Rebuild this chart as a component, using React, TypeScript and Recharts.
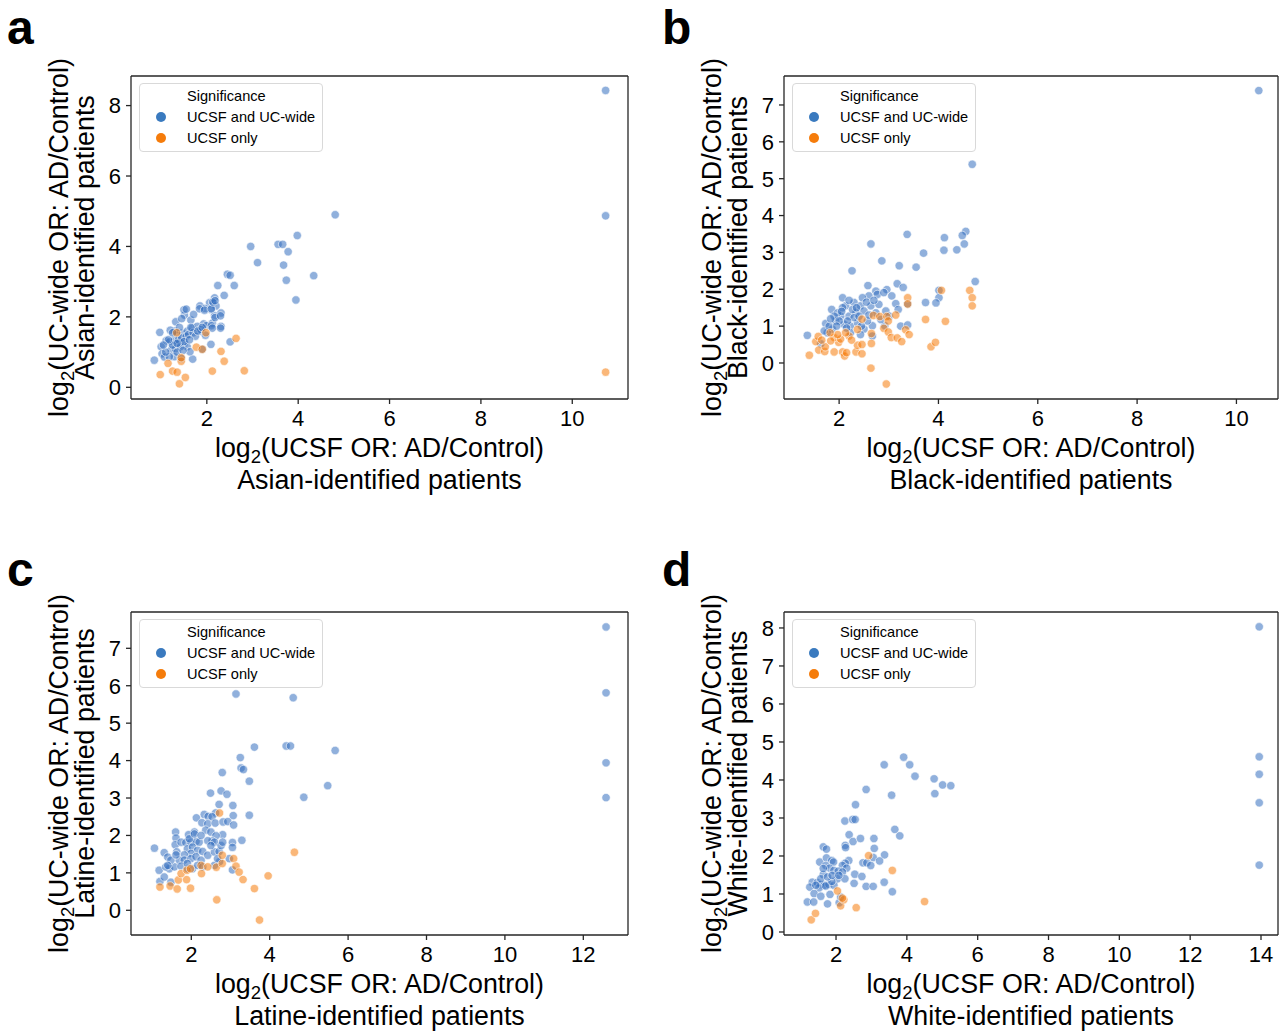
import React from 'react';
import { ScatterChart, Scatter, XAxis, YAxis, Legend, ReferenceLine } from 'recharts';

type Pt = { x: number; y: number };
const toPts = (arr: number[][]): Pt[] => arr.map(([x, y]) => ({ x, y }));

const seriesNames = ['UCSF and UC-wide', 'UCSF only'];
const legendTitle = 'Significance';
const groups = ['Asian', 'Black', 'Latine', 'White'];
const letters = ['a', 'b', 'c', 'd'];

const aXTicks = [2, 4, 6, 8, 10];
const aYTicks = [0, 2, 4, 6, 8];
const bXTicks = [2, 4, 6, 8, 10];
const bYTicks = [0, 1, 2, 3, 4, 5, 6, 7];
const cXTicks = [2, 4, 6, 8, 10, 12];
const cYTicks = [0, 1, 2, 3, 4, 5, 6, 7];
const dXTicks = [2, 4, 6, 8, 10, 12, 14];
const dYTicks = [0, 1, 2, 3, 4, 5, 6, 7, 8];

const aBlue = toPts([
  [10.73, 8.43], [10.73, 4.87], [4.81, 4.9], [3.98, 4.31], [3.56, 4.06], [3.66, 4.06], [3.78, 3.85], [2.96, 4.0],
  [3.11, 3.54], [3.68, 3.47], [3.74, 3.04], [4.34, 3.17], [3.95, 2.48], [2.45, 3.21], [2.51, 3.18], [2.24, 2.89],
  [2.6, 2.89], [2.38, 2.61], [2.17, 2.54], [2.06, 2.4], [2.14, 2.39], [2.2, 2.31], [1.85, 2.31], [1.96, 2.24],
  [2.09, 2.21], [2.31, 2.11], [2.17, 2.03], [2.12, 1.82], [1.93, 1.8], [2.31, 1.73], [1.99, 1.75], [2.1, 1.75],
  [1.85, 1.59], [1.97, 1.48], [2.51, 1.29], [2.09, 1.22], [0.85, 0.77], [0.97, 1.56], [1.69, 0.8], [1.11, 1.32],
  [1.0, 1.15], [1.02, 0.95], [1.07, 0.86], [1.18, 1.29], [1.29, 1.34], [1.22, 1.06], [1.31, 1.09], [1.4, 1.25],
  [1.51, 1.25], [1.35, 1.49], [1.46, 1.54], [1.57, 1.59], [1.68, 1.69], [1.79, 1.73], [1.87, 1.64], [1.32, 1.86],
  [1.51, 2.05], [1.5, 2.2], [1.55, 2.22], [1.65, 1.91], [1.71, 2.07], [1.84, 2.23], [1.95, 2.19], [2.1, 2.23],
  [2.13, 2.42], [2.18, 2.46], [2.18, 1.98], [2.3, 2.03], [2.3, 1.68], [2.12, 1.68], [1.57, 1.15], [1.63, 1.01],
  [1.29, 0.87], [1.18, 0.87], [1.44, 0.82], [1.25, 1.2], [1.38, 1.35], [1.45, 1.4], [1.55, 1.45], [1.6, 1.5],
  [1.7, 1.55], [1.75, 1.45], [1.8, 1.6], [1.42, 1.15], [1.5, 1.3], [1.62, 1.35], [1.3, 1.6], [1.2, 1.62],
  [1.1, 1.0], [1.35, 1.0], [1.48, 1.05], [1.9, 1.7], [1.65, 1.7], [1.4, 1.7], [1.45, 1.95], [1.35, 1.25],
  [1.9, 1.08], [1.16, 1.35], [1.05, 1.2], [1.25, 1.55],
]);
const aOrange = toPts([
  [10.73, 0.43], [2.64, 1.39], [2.31, 1.02], [2.38, 0.74], [2.12, 0.46], [2.82, 0.47], [0.98, 0.36], [1.15, 0.68],
  [1.25, 0.46], [1.35, 0.43], [1.4, 0.1], [1.53, 0.28], [1.44, 0.74], [1.44, 0.84], [1.77, 1.14], [1.9, 1.08],
  [1.34, 1.55], [1.98, 1.55],
]);

const bBlue = toPts([
  [10.45, 7.39], [4.68, 5.39], [3.37, 3.49], [2.64, 3.23], [4.55, 3.57], [4.48, 3.46], [4.12, 3.4], [4.52, 3.23],
  [4.11, 3.06], [4.37, 3.07], [3.7, 2.98], [2.86, 2.77], [3.21, 2.64], [3.55, 2.6], [2.26, 2.5], [4.74, 2.21],
  [2.58, 2.1], [3.17, 2.15], [3.29, 2.05], [2.96, 1.99], [2.74, 1.95], [4.01, 1.97], [4.01, 1.77], [3.95, 1.63],
  [3.74, 1.64], [3.38, 1.6], [2.07, 1.77], [3.06, 1.82], [3.14, 1.61], [3.19, 1.45], [2.94, 1.41], [3.24, 1.0],
  [3.38, 1.03], [2.92, 1.01], [1.85, 1.45], [1.73, 1.07], [1.36, 0.75], [1.63, 0.52], [2.13, 1.55], [2.3, 1.64],
  [2.43, 1.55], [2.6, 1.82], [2.77, 1.86], [2.9, 1.91], [2.47, 1.77], [2.34, 1.36], [2.5, 1.41], [2.64, 1.55],
  [2.8, 1.59], [2.2, 1.27], [2.03, 1.27], [1.97, 1.36], [1.93, 1.14], [2.1, 1.05], [2.23, 1.0], [2.37, 1.09],
  [2.5, 0.92], [2.67, 1.01], [2.67, 0.73], [1.86, 0.92], [1.76, 0.82], [1.7, 0.87], [2.23, 0.82], [2.43, 0.77],
  [2.3, 1.23], [2.4, 1.27], [2.57, 1.14], [2.07, 1.5], [2.27, 1.45], [1.9, 1.27], [2.0, 1.14], [2.17, 1.14],
  [2.74, 1.36], [2.84, 1.18], [3.01, 1.27], [1.8, 1.0], [1.95, 1.0], [2.15, 0.95], [2.05, 1.4], [2.2, 1.7],
  [2.35, 1.5], [2.55, 1.65], [2.7, 1.7], [1.83, 1.2], [2.6, 1.3], [2.45, 1.0],
]);
const bOrange = toPts([
  [2.95, -0.57], [2.64, -0.14], [1.4, 0.21], [1.59, 0.35], [1.53, 0.58], [1.58, 0.72], [1.71, 0.31], [1.72, 0.44],
  [1.9, 0.3], [2.07, 0.3], [2.11, 0.19], [2.15, 0.28], [2.34, 0.3], [2.46, 0.25], [2.37, 0.48], [2.46, 0.5],
  [2.65, 0.53], [1.99, 0.56], [1.9, 0.69], [1.83, 0.6], [2.03, 0.65], [2.2, 0.73], [2.13, 0.82], [1.97, 0.77],
  [1.82, 0.82], [2.37, 0.91], [2.65, 0.8], [2.46, 1.19], [2.69, 1.29], [2.82, 1.26], [2.96, 1.26], [2.99, 1.14],
  [3.14, 1.3], [2.9, 0.94], [2.99, 0.84], [3.05, 0.69], [3.17, 0.68], [3.26, 0.58], [3.34, 0.9], [3.41, 0.77],
  [3.38, 1.77], [3.38, 1.6], [3.74, 1.18], [3.85, 0.44], [3.94, 0.56], [4.14, 1.13], [4.06, 1.97], [4.63, 1.97],
  [4.68, 1.77], [4.68, 1.55], [1.65, 0.62], [2.25, 0.62],
]);

const cBlue = toPts([
  [12.58, 7.57], [12.58, 5.81], [12.58, 3.94], [12.58, 3.01], [3.14, 5.78], [4.6, 5.68], [4.42, 4.39], [4.53, 4.39],
  [3.61, 4.36], [5.67, 4.27], [3.25, 4.08], [3.27, 3.8], [3.33, 3.76], [2.79, 3.68], [3.48, 3.45], [5.48, 3.33],
  [4.87, 3.02], [2.49, 3.13], [2.76, 3.19], [2.91, 3.1], [2.71, 2.83], [3.06, 2.8], [3.07, 2.53], [3.48, 2.54],
  [2.62, 2.6], [2.33, 2.56], [2.13, 2.47], [2.43, 2.51], [2.53, 2.5], [2.27, 2.34], [2.42, 2.31], [2.61, 2.33],
  [2.81, 2.36], [2.93, 2.37], [3.08, 2.28], [2.8, 2.02], [2.37, 2.14], [2.5, 2.09], [2.63, 1.99], [2.53, 1.85],
  [2.08, 2.09], [1.93, 2.02], [1.6, 2.09], [1.61, 1.93], [1.59, 1.75], [1.06, 1.66], [1.31, 1.54], [1.4, 1.42],
  [1.63, 1.56], [1.18, 1.07], [1.2, 0.77], [1.31, 0.89], [1.44, 1.11], [1.35, 1.16], [3.05, 1.81], [3.05, 1.68],
  [3.29, 1.87], [2.97, 1.38], [3.05, 1.08], [2.72, 1.3], [2.59, 1.2], [1.48, 0.75], [1.74, 1.82], [1.86, 1.81],
  [1.99, 1.82], [2.12, 1.84], [2.2, 1.82], [1.9, 1.64], [2.03, 1.69], [2.16, 1.6], [2.29, 1.57], [1.99, 1.52],
  [1.82, 1.48], [1.69, 1.34], [1.82, 1.34], [1.99, 1.38], [2.12, 1.43], [2.25, 1.34], [2.42, 1.47], [2.59, 1.56],
  [2.71, 1.57], [1.57, 1.16], [1.74, 1.18], [1.9, 1.11], [2.03, 1.11], [2.16, 1.2], [2.29, 1.16], [1.9, 1.25],
  [1.95, 1.91], [2.08, 2.04], [2.25, 2.0], [2.42, 1.86], [2.59, 1.82], [2.76, 1.73], [2.8, 1.82], [2.5, 1.73],
  [1.48, 1.34], [1.61, 1.48], [1.4, 1.2], [2.67, 1.38],
]);
const cOrange = toPts([
  [3.74, -0.26], [2.65, 0.28], [1.2, 0.62], [1.46, 0.65], [1.64, 0.57], [1.98, 0.59], [1.67, 0.81], [1.88, 0.82],
  [1.74, 0.98], [1.89, 1.07], [1.98, 1.11], [2.26, 0.98], [2.25, 1.2], [2.42, 1.16], [2.64, 1.15], [2.79, 1.25],
  [2.79, 1.47], [3.08, 1.38], [3.14, 1.18], [3.22, 1.02], [3.32, 0.82], [3.61, 0.58], [3.96, 0.92], [4.63, 1.55],
  [2.72, 2.6],
]);

const dBlue = toPts([
  [13.95, 8.03], [13.95, 4.61], [13.95, 4.15], [13.95, 3.4], [13.95, 1.76], [3.91, 4.6], [4.08, 4.4], [3.36, 4.4],
  [4.23, 4.1], [4.77, 4.03], [5.01, 3.87], [5.24, 3.85], [4.79, 3.64], [3.57, 3.6], [2.85, 3.75], [2.55, 3.35],
  [2.25, 2.92], [2.47, 2.96], [2.54, 2.96], [3.66, 2.7], [3.8, 2.53], [2.37, 2.56], [2.48, 2.38], [2.69, 2.46],
  [3.07, 2.46], [2.26, 2.28], [2.27, 2.22], [3.08, 2.2], [3.37, 2.03], [3.05, 1.96], [3.23, 1.87], [2.76, 1.82],
  [2.87, 1.82], [2.98, 1.75], [2.36, 1.88], [2.26, 1.81], [2.18, 1.75], [2.3, 1.68], [2.53, 1.52], [2.73, 1.46],
  [2.51, 1.28], [2.85, 1.2], [3.05, 1.2], [3.36, 1.31], [3.59, 1.06], [1.64, 2.24], [1.73, 2.18], [1.54, 1.84],
  [1.73, 1.95], [1.88, 1.88], [1.93, 1.84], [1.71, 1.75], [1.64, 1.51], [1.82, 1.68], [1.94, 1.62], [2.06, 1.6],
  [2.18, 1.58], [2.04, 1.4], [2.25, 1.4], [1.33, 1.31], [1.26, 1.18], [1.47, 1.3], [1.57, 1.25], [1.66, 1.23],
  [1.8, 1.25], [1.94, 1.23], [1.52, 1.16], [1.71, 1.21], [1.88, 1.33], [1.64, 1.67], [1.57, 1.4], [1.76, 1.45],
  [1.89, 1.49], [2.08, 1.49], [1.43, 1.23], [1.38, 1.01], [1.57, 0.94], [1.83, 0.99], [1.19, 0.79], [1.37, 0.79],
  [1.76, 0.74], [2.09, 0.77], [2.13, 0.92],
]);
const dOrange = toPts([
  [1.3, 0.32], [1.42, 0.49], [2.13, 0.69], [2.22, 0.85], [2.18, 0.89], [2.04, 1.08], [2.57, 0.64], [4.5, 0.8],
  [3.59, 1.62], [2.92, 2.01],
]);

const FONT = '"Liberation Sans", Arial, Helvetica, sans-serif';
const AX = '#262626';
const BLUE = '#3570c0';
const ORANGE = '#f57c0b';
const BLUE_LEG = '#3a7abf';
const ORANGE_LEG = '#f57c0b';

type PanelCfg = {
  letter: string;
  group: string;
  left: number;
  top: number;
  width: number;
  height: number;
  plot: { left: number; top: number; right: number; bottom: number };
  xDomain: [number, number];
  yDomain: [number, number];
  xTicks: number[];
  yTicks: number[];
  blue: Pt[];
  orange: Pt[];
};

const panels: PanelCfg[] = [
  {
    letter: letters[0], group: groups[0], left: 0, top: 0, width: 650, height: 520,
    plot: { left: 131, top: 76, right: 628, bottom: 399 },
    xDomain: [0.34, 11.22], yDomain: [-0.332, 8.84], xTicks: aXTicks, yTicks: aYTicks, blue: aBlue, orange: aOrange,
  },
  {
    letter: letters[1], group: groups[1], left: 650, top: 0, width: 629, height: 520,
    plot: { left: 784, top: 76, right: 1278, bottom: 399 },
    xDomain: [0.89, 10.837], yDomain: [-0.977, 7.786], xTicks: bXTicks, yTicks: bYTicks, blue: bBlue, orange: bOrange,
  },
  {
    letter: letters[2], group: groups[2], left: 0, top: 536, width: 650, height: 495,
    plot: { left: 131, top: 612, right: 628, bottom: 935 },
    xDomain: [0.462, 13.14], yDomain: [-0.66, 7.97], xTicks: cXTicks, yTicks: cYTicks, blue: cBlue, orange: cOrange,
  },
  {
    letter: letters[3], group: groups[3], left: 650, top: 536, width: 629, height: 495,
    plot: { left: 784, top: 612, right: 1278, bottom: 935 },
    xDomain: [0.531, 14.48], yDomain: [-0.079, 8.42], xTicks: dXTicks, yTicks: dYTicks, blue: dBlue, orange: dOrange,
  },
];

const makeDot = (color: string) => (props: any) => {
  const { cx, cy } = props;
  if (cx == null || cy == null) return <g />;
  return <circle cx={cx} cy={cy} r={4.2} fill={color} fillOpacity={0.55} stroke="#ffffff" strokeWidth={0.6} />;
};

const LegendBox = (props: any) => {
  const payload = (props && props.payload) || [];
  const names = payload.length ? payload.map((p: any) => p.value) : seriesNames;
  const cols = [BLUE_LEG, ORANGE_LEG];
  return (
    <div
      style={{
        width: 184, height: 69, boxSizing: 'border-box', border: '1px solid #d9d9d9', borderRadius: 4,
        background: 'rgba(255,255,255,0.85)', position: 'relative', fontFamily: FONT, fontSize: 14.6, color: '#000',
      }}
    >
      <div style={{ position: 'absolute', left: 47, top: 2, lineHeight: '20px', whiteSpace: 'nowrap' }}>{legendTitle}</div>
      {names.map((n: string, i: number) => (
        <div key={n} style={{ position: 'absolute', left: 0, top: 23 + i * 21, height: 20, width: 184 }}>
          <div
            style={{
              position: 'absolute', left: 15.5, top: 4.7, width: 10.6, height: 10.6, borderRadius: '50%', background: cols[i],
            }}
          />
          <div style={{ position: 'absolute', left: 47, top: 0, lineHeight: '20px', whiteSpace: 'nowrap' }}>{n}</div>
        </div>
      ))}
    </div>
  );
};

function Panel({ cfg }: { cfg: PanelCfg }) {
  const { left, top, width, height, plot } = cfg;
  const yAxisW = plot.left - left;
  const xAxisH = top + height - plot.bottom;
  const margin = { top: plot.top - top, right: left + width - plot.right, bottom: 0, left: 0 };
  const pw = plot.right - plot.left;
  const ph = plot.bottom - plot.top;
  const cx = yAxisW + pw / 2;
  const cy = margin.top + ph / 2;
  const bottomY = plot.bottom - top;
  const labelStyle = { fontFamily: FONT, fontSize: 26.8, fill: '#000' } as const;

  const xLabel = () => (
    <g>
      <text x={cx} y={bottomY + 58} textAnchor="middle" style={labelStyle}>
        log<tspan dy={6} fontSize={18.5}>2</tspan>
        <tspan dy={-6}>(UCSF OR: AD/Control)</tspan>
      </text>
      <text x={cx} y={bottomY + 90} textAnchor="middle" style={labelStyle}>
        {cfg.group}-identified patients
      </text>
    </g>
  );
  const px1 = yAxisW - 63;
  const px2 = yAxisW - 37.5;
  const yLabel = () => (
    <g>
      <text x={px1} y={cy} textAnchor="middle" transform={`rotate(-90, ${px1}, ${cy})`} style={labelStyle}>
        log<tspan dy={6} fontSize={18.5}>2</tspan>
        <tspan dy={-6}>(UC-wide OR: AD/Control)</tspan>
      </text>
      <text x={px2} y={cy} textAnchor="middle" transform={`rotate(-90, ${px2}, ${cy})`} style={labelStyle}>
        {cfg.group}-identified patients
      </text>
    </g>
  );

  const tickStyle = { fontSize: 22, fill: '#000', fontFamily: FONT };
  const lineStyle = { stroke: AX, strokeWidth: 1.3 };

  return (
    <div style={{ position: 'absolute', left, top, width, height }}>
      <ScatterChart width={width} height={height} margin={margin}>
        <XAxis
          type="number" dataKey="x" domain={cfg.xDomain} ticks={cfg.xTicks} allowDataOverflow interval={0}
          height={xAxisH} tickSize={5} tickMargin={6} tick={tickStyle} axisLine={lineStyle} tickLine={lineStyle}
          label={xLabel}
        />
        <YAxis
          type="number" dataKey="y" domain={cfg.yDomain} ticks={cfg.yTicks} allowDataOverflow interval={0}
          width={yAxisW} tickSize={5} tickMargin={5} tick={tickStyle} axisLine={lineStyle} tickLine={lineStyle}
          label={yLabel}
        />
        <ReferenceLine y={cfg.yDomain[1]} stroke={AX} strokeWidth={1.3} ifOverflow="extendDomain" />
        <ReferenceLine x={cfg.xDomain[1]} stroke={AX} strokeWidth={1.3} ifOverflow="extendDomain" />
        <Scatter name={seriesNames[0]} data={cfg.blue} fill={BLUE} shape={makeDot(BLUE)} isAnimationActive={false} />
        <Scatter name={seriesNames[1]} data={cfg.orange} fill={ORANGE} shape={makeDot(ORANGE)} isAnimationActive={false} />
        <Legend
          layout="horizontal" verticalAlign="middle" align="center"
          wrapperStyle={{ left: yAxisW + 8, top: margin.top + 7, width: 184, height: 69 }}
          content={LegendBox}
        />
      </ScatterChart>
    </div>
  );
}

export default function App() {
  const letterPos = [
    { x: 7, y: 43.5 },
    { x: 662, y: 43.5 },
    { x: 7, y: 586 },
    { x: 662, y: 586 },
  ];
  return (
    <div style={{ position: 'absolute', left: 0, top: 0, width: 1279, height: 1031, background: '#fff', fontFamily: FONT, overflow: 'hidden' }}>
      {panels.map((p) => (
        <Panel key={p.letter} cfg={p} />
      ))}
      <svg width={1279} height={1031} style={{ position: 'absolute', left: 0, top: 0, pointerEvents: 'none' }}>
        {panels.map((p, i) => (
          <text key={p.letter} x={letterPos[i].x} y={letterPos[i].y} style={{ fontFamily: FONT, fontSize: 48, fontWeight: 'bold', fill: '#000' }}>
            {p.letter}
          </text>
        ))}
      </svg>
    </div>
  );
}
